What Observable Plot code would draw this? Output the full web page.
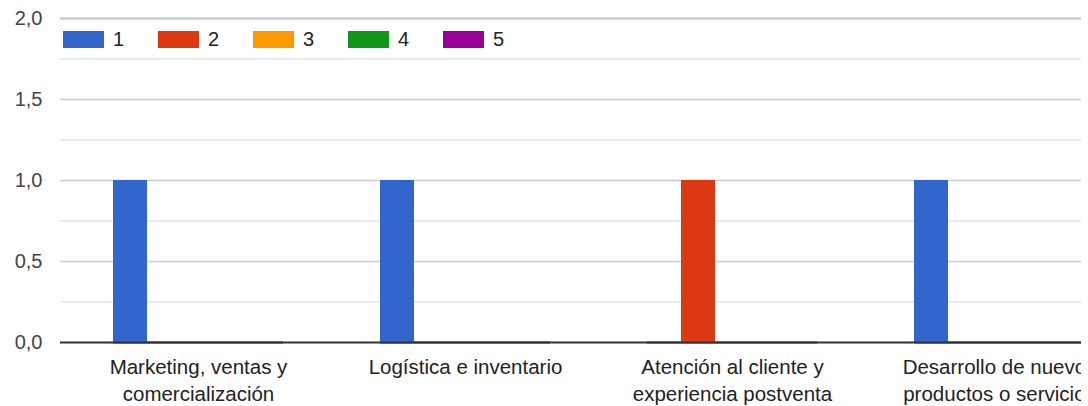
<!DOCTYPE html>
<html>
<head>
<meta charset="utf-8">
<script src="https://cdn.jsdelivr.net/npm/d3@7"></script>
<script src="https://cdn.jsdelivr.net/npm/@observablehq/plot@0.6"></script>
<style>
  html, body { margin: 0; padding: 0; background: #fff; overflow: hidden; }
  #wrap { position: relative; width: 1081px; height: 406px; overflow: hidden; font-family: "Liberation Sans", Arial, sans-serif; }
  #grid, #bars { position: absolute; left: 0; top: 0; width: 1130px; height: 406px; }
  #grid svg, #bars svg { max-width: none !important; }
  #legend { position: absolute; top: 30px; left: 63px; display: flex; font-size: 20px; color: #222; }
  .item { display: flex; align-items: center; width: 95px; height: 18px; }
  .sw { width: 41px; height: 17px; margin-right: 9px; }
</style>
</head>
<body>
<div id="wrap"><div id="grid"></div><div id="bars"></div><div id="legend"></div></div>
<script>
const categories = [
  "Marketing, ventas y comercialización",
  "Logística e inventario",
  "Atención al cliente y experiencia postventa",
  "Desarrollo de nuevos productos o servicios"
];
const categoryLabels = [
  "Marketing, ventas y\ncomercialización",
  "Logística e inventario",
  "Atención al cliente y\nexperiencia postventa",
  "Desarrollo de nuevos\nproductos o servicios"
];
const seriesNames = ["1", "2", "3", "4", "5"];
const series1 = [1, 1, 0, 1];
const series2 = [0, 0, 1, 0];
const series3 = [0, 0, 0, 0];
const series4 = [0, 0, 0, 0];
const series5 = [0, 0, 0, 0];
const seriesColors = ["#3366cc", "#dc3912", "#ff9900", "#109618", "#990099"];
const yTicks = [0, 0.5, 1, 1.5, 2];
const yTickLabels = ["0,0", "0,5", "1,0", "1,5", "2,0"];
const yMinorTicks = [0.25, 0.75, 1.25, 1.75];

const allSeries = [series1, series2, series3, series4, series5];
const rows = [];
categories.forEach((c, i) => {
  seriesNames.forEach((s, j) => rows.push({category: c, series: s, value: allSeries[j][i]}));
});

const font = '"Liberation Sans", Arial, sans-serif';
const common = {
  width: 1130,
  height: 406,
  marginLeft: 60,
  marginRight: 0,
  marginTop: 18,
  marginBottom: 64,
  y: {domain: [0, 2], axis: null}
};

const gridChart = Plot.plot({
  ...common,
  style: {fontFamily: font, fontSize: "20px", background: "#fff", maxWidth: "none"},
  marks: [
    Plot.ruleY(yMinorTicks, {stroke: "#ebebeb", strokeWidth: 2}),
    Plot.ruleY(yTicks.filter(d => d > 0), {stroke: "#cccccc", strokeWidth: d => d === 2 ? 2.5 : 1.5}),
    Plot.ruleY([0], {stroke: "#333", strokeWidth: 2}),
    Plot.text(yTicks, {y: d => d, text: (d, i) => yTickLabels[i], frameAnchor: "left", textAnchor: "end", dx: -18, fill: "#444", fontSize: 20})
  ]
});
document.getElementById("grid").appendChild(gridChart);

const barChart = Plot.plot({
  ...common,
  style: {fontFamily: font, fontSize: "20px", background: "transparent", maxWidth: "none"},
  fx: {domain: categories, paddingInner: 0.3643, paddingOuter: 0.182, align: 0.53},
  x: {domain: seriesNames, padding: 0, axis: null},
  color: {domain: seriesNames, range: seriesColors},
  marks: [
    Plot.barY(rows.filter(d => d.value > 0), {fx: "category", x: "series", y: "value", fill: "series"}),
    Plot.ruleY([0], {stroke: "#333", strokeWidth: 2}),
    Plot.axisFx({
      anchor: "bottom",
      tickFormat: d => categoryLabels[categories.indexOf(d)],
      tickSize: 0, tickPadding: 12, lineHeight: 1.33, fontSize: 20.5, fill: "#222", label: null
    })
  ]
});
document.getElementById("bars").appendChild(barChart);

const legend = document.getElementById("legend");
seriesNames.forEach((s, i) => {
  const item = document.createElement("div");
  item.className = "item";
  const sw = document.createElement("div");
  sw.className = "sw";
  sw.style.background = seriesColors[i];
  const t = document.createElement("span");
  t.textContent = s;
  item.appendChild(sw);
  item.appendChild(t);
  legend.appendChild(item);
});
</script>
</body>
</html>
